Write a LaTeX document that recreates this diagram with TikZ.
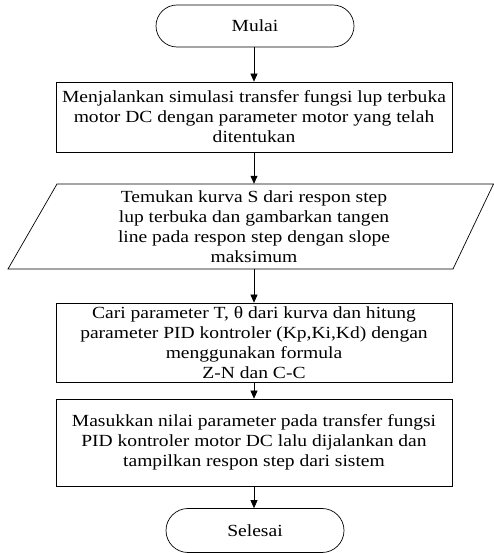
\documentclass[tikz,border=0pt]{standalone}
\usepackage{fontspec}
\setmainfont{Liberation Serif}[FakeStretch=1.15]
\usetikzlibrary{arrows.meta,shapes.misc}
\begin{document}
\begin{tikzpicture}[x=1pt,y=1pt,
  txt/.style={font=\fontsize{17}{20}\selectfont, align=center, inner sep=0pt},
  term/.style={txt, draw, rounded rectangle, line width=0.7pt},
  proc/.style={txt, draw, rectangle, line width=0.7pt},
  arr/.style={-{Triangle[length=8pt,width=7pt]}, line width=0.7pt}]
\useasboundingbox (0,0) rectangle (494,553);
\node[term, minimum width=198pt, minimum height=42pt] (start) at (255,527) {Mulai};
\node[proc, minimum width=396pt, minimum height=70pt] (p1) at (254,436)
  {Menjalankan simulasi transfer fungsi lup terbuka\\motor DC dengan parameter motor yang telah\\ditentukan};
\node[txt, minimum width=396pt, minimum height=85pt] (io) at (254,326.5)
  {Temukan kurva S dari respon step\\lup terbuka dan gambarkan tangen\\line pada respon step dengan slope\\maksimum};
\draw[line width=0.7pt] (57,369) -- (493.5,369) -- (453,284) -- (8,284) -- cycle;
\node[proc, minimum width=396pt, minimum height=79pt] (p2) at (254,210.5)
  {Cari parameter T, θ dari kurva dan hitung\\parameter PID kontroler (Kp,Ki,Kd) dengan\\menggunakan formula\\Z-N dan C-C};
\node[proc, minimum width=396pt, minimum height=87pt] (p3) at (254,110.5)
  {Masukkan nilai parameter pada transfer fungsi\\PID kontroler motor DC lalu dijalankan dan\\tampilkan respon step dari sistem};
\node[term, minimum width=178pt, minimum height=44pt] (end) at (255,22.5) {Selesai};
\draw[arr] (start.south -| p1.north) -- (p1.north);
\draw[arr] (p1.south) -- (io.north);
\draw[arr] (io.south) -- (p2.north);
\draw[arr] (p2.south) -- (p3.north);
\draw[arr] (p3.south) -- (end.north -| p3.south);
\end{tikzpicture}
\end{document}
